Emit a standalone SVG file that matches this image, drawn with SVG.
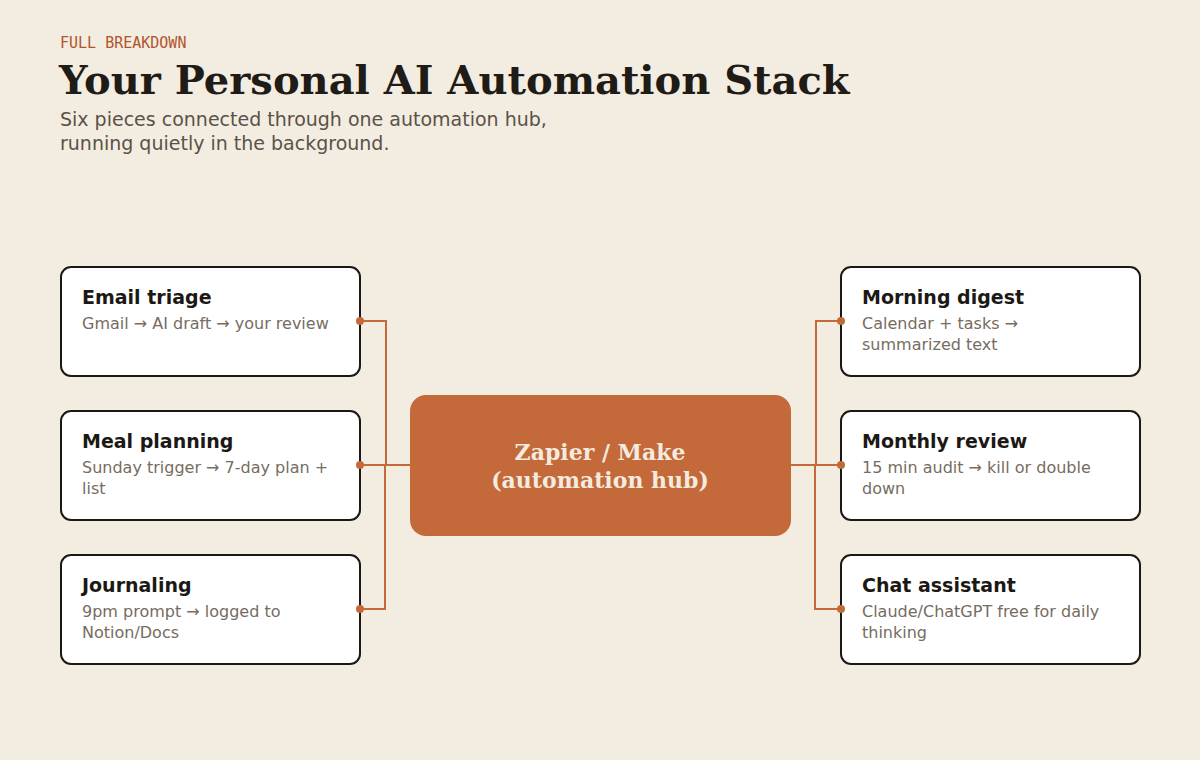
<svg xmlns="http://www.w3.org/2000/svg" width="1200" height="760" viewBox="0 0 1200 760">
<style>
.kicker{font-family:"DejaVu Sans Mono",monospace;font-size:15px;fill:#b0552c;}
.title{font-family:"DejaVu Serif",serif;font-weight:bold;font-size:40px;fill:#1f1b16;}
.sub{font-family:"DejaVu Sans",sans-serif;font-size:19px;fill:#5a5248;}
.box{fill:#ffffff;stroke:#1c1915;stroke-width:2;}
.nt{font-family:"DejaVu Sans",sans-serif;font-weight:bold;font-size:19px;fill:#1c1915;}
.nd{font-family:"DejaVu Sans",sans-serif;font-size:16px;fill:#766c61;}
.hub{fill:#c4693a;}
.ht{font-family:"DejaVu Serif",serif;font-weight:bold;font-size:22px;fill:#f3ebdf;text-anchor:middle;}
.wire{fill:none;stroke:#c4693a;stroke-width:2;}
.dot{fill:#c4693a;}
</style>
<rect width="1200" height="760" fill="#f3ece1"/>
<text class="kicker" x="60" y="48">FULL BREAKDOWN</text>
<text class="title" x="59" y="94">Your Personal AI Automation Stack</text>
<text class="sub" x="60" y="126">Six pieces connected through one automation hub,</text>
<text class="sub" x="60" y="150">running quietly in the background.</text>
<g id="hub">
<rect class="hub" x="410" y="395" width="381" height="141" rx="16"/>
<text class="ht" x="600" y="460">Zapier / Make</text>
<text class="ht" x="600" y="488">(automation hub)</text>
</g>
<g id="email-triage">
<rect class="box" x="61" y="267" width="299" height="109" rx="10"/>
<text class="nt" x="82" y="304">Email triage</text>
<text class="nd" x="82" y="329">Gmail → AI draft → your review</text>
</g>
<g id="meal-planning">
<rect class="box" x="61" y="411" width="299" height="109" rx="10"/>
<text class="nt" x="82" y="448">Meal planning</text>
<text class="nd" x="82" y="473">Sunday trigger → 7-day plan +</text>
<text class="nd" x="82" y="494">list</text>
</g>
<g id="journaling">
<rect class="box" x="61" y="555" width="299" height="109" rx="10"/>
<text class="nt" x="82" y="592">Journaling</text>
<text class="nd" x="82" y="617">9pm prompt → logged to</text>
<text class="nd" x="82" y="638">Notion/Docs</text>
</g>
<g id="morning-digest">
<rect class="box" x="841" y="267" width="299" height="109" rx="10"/>
<text class="nt" x="862" y="304">Morning digest</text>
<text class="nd" x="862" y="329">Calendar + tasks →</text>
<text class="nd" x="862" y="350">summarized text</text>
</g>
<g id="monthly-review">
<rect class="box" x="841" y="411" width="299" height="109" rx="10"/>
<text class="nt" x="862" y="448">Monthly review</text>
<text class="nd" x="862" y="473">15 min audit → kill or double</text>
<text class="nd" x="862" y="494">down</text>
</g>
<g id="chat-assistant">
<rect class="box" x="841" y="555" width="299" height="109" rx="10"/>
<text class="nt" x="862" y="592">Chat assistant</text>
<text class="nd" x="862" y="617">Claude/ChatGPT free for daily</text>
<text class="nd" x="862" y="638">thinking</text>
</g>
<g id="connectors">
<path class="wire" d="M360,321 H386 V465 H410"/>
<path class="wire" d="M360,465 H410"/>
<path class="wire" d="M360,609 H385 V465"/>
<path class="wire" d="M841,321 H816 V465 H791"/>
<path class="wire" d="M841,465 H791"/>
<path class="wire" d="M841,609 H815 V465"/>
<circle class="dot" cx="360" cy="321" r="4"/>
<circle class="dot" cx="360" cy="465" r="4"/>
<circle class="dot" cx="360" cy="609" r="4"/>
<circle class="dot" cx="841" cy="321" r="4"/>
<circle class="dot" cx="841" cy="465" r="4"/>
<circle class="dot" cx="841" cy="609" r="4"/>
</g>
</svg>
